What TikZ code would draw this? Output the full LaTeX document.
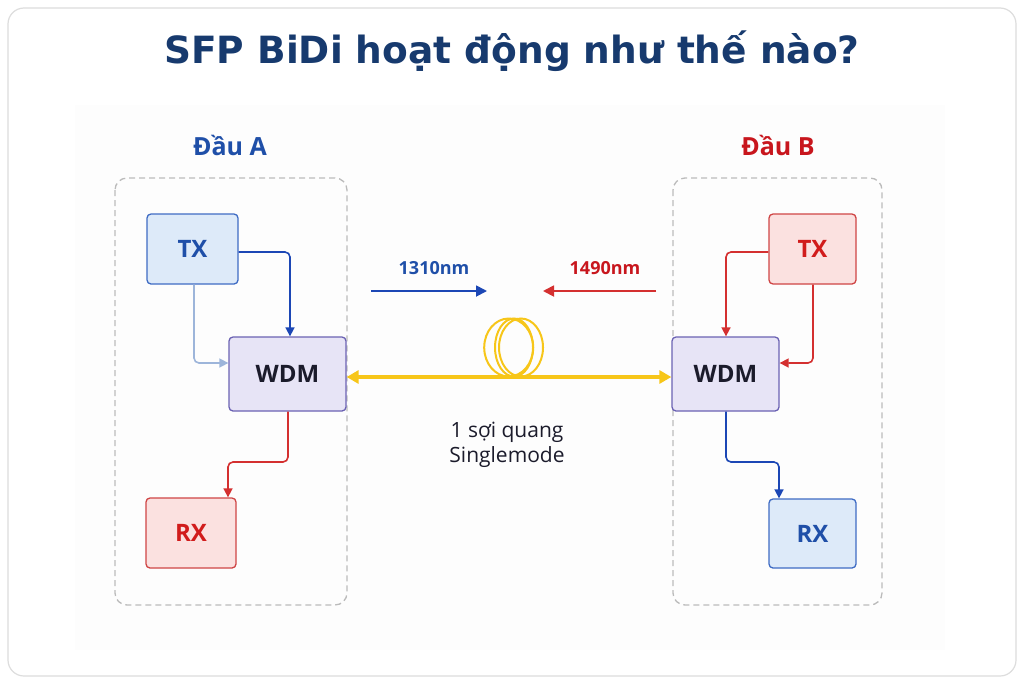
\documentclass[tikz,border=0pt]{standalone}
\usepackage{fontspec}
\setmainfont{Open Sans}
\newfontfamily\titlefont{DejaVu Sans}
\usetikzlibrary{arrows.meta}
\definecolor{navy}{HTML}{173A6E}
\definecolor{ablue}{HTML}{1F4FA8}
\definecolor{bred}{HTML}{C8161D}
\definecolor{lnblue}{HTML}{1C47B5}
\definecolor{lnlblue}{HTML}{9DB5DA}
\definecolor{lnred}{HTML}{D43030}
\definecolor{fiber}{HTML}{F7C619}
\definecolor{dashgray}{HTML}{BBBBBB}
\definecolor{framegray}{HTML}{DDDDDD}
\definecolor{bluefill}{HTML}{DDEAF9}
\definecolor{blueedge}{HTML}{3F6CC4}
\definecolor{redfill}{HTML}{FBE1E0}
\definecolor{rededge}{HTML}{CF4545}
\definecolor{wdmfill}{HTML}{E7E4F6}
\definecolor{wdmedge}{HTML}{6B62B3}
\definecolor{txtdark}{HTML}{1B1B2B}
\definecolor{rxred}{HTML}{D11C1C}
\definecolor{panel}{HTML}{FDFDFD}
\tikzset{
  box/.style={draw, line width=1.3pt, rounded corners=4pt, inner sep=0pt, font=\fontsize{24}{26}\selectfont\bfseries},
  bluebox/.style={box, fill=bluefill, draw=blueedge, text=ablue},
  redbox/.style={box, fill=redfill, draw=rededge, text=rxred},
  wdmbox/.style={box, fill=wdmfill, draw=wdmedge, text=txtdark},
  group/.style={draw=dashgray, dash pattern=on 6pt off 4pt, line width=1.3pt, rounded corners=12pt},
  conn/.style={line width=1.6pt, rounded corners=5pt, -{Triangle[length=9pt,width=9pt]}},
  heading/.style={font=\fontsize{25}{28}\selectfont\bfseries},
  wl/.style={font=\fontsize{18}{20}\selectfont\bfseries},
}
\begin{document}
\begin{tikzpicture}[x=1pt,y=-1pt]
\useasboundingbox (0,0) rectangle (1024,683);
\fill[white] (0,0) rectangle (1024,683);
\draw[framegray, line width=1.2pt, rounded corners=16pt, fill=white] (8,8) rectangle (1016,676);
\fill[panel] (75,105) rectangle (945,650);

\node[font=\titlefont\fontsize{37.5}{40}\selectfont\bfseries, text=navy] (title) at (512,51) {SFP BiDi hoạt động như thế nào?};

% groups
\draw[group] (115,178) rectangle (347,605);
\draw[group] (673,178) rectangle (882,605);
\node[heading, text=ablue] (hA) at (230,145) {Đầu A};
\node[heading, text=bred] (hB) at (778,145) {Đầu B};

% left side
\node[bluebox, minimum width=91pt, minimum height=70pt] (txA) at (192.5,249) {TX};
\node[wdmbox, minimum width=117pt, minimum height=74pt] (wdmA) at (287.5,374) {WDM};
\node[redbox, minimum width=90pt, minimum height=70pt] (rxA) at (191,533) {RX};

% right side
\node[redbox, minimum width=87pt, minimum height=70pt] (txB) at (812.5,249) {TX};
\node[wdmbox, minimum width=107pt, minimum height=74pt] (wdmB) at (725.5,374) {WDM};
\node[bluebox, minimum width=87pt, minimum height=69pt] (rxB) at (812.5,533.5) {RX};

% connectors left
\draw[conn, lnblue] (txA.east |- 0,252) -| (wdmA.north -| 290,0);
\draw[conn, lnlblue] (txA.south -| 194,0) |- (wdmA.west |- 0,363);
\draw[conn, lnred] (wdmA.south -| 288,0) -- (288,462) -- (228,462) -- (rxA.north -| 228,0);

% connectors right
\draw[conn, lnred] (txB.west |- 0,252) -| (wdmB.north -| 726,0);
\draw[conn, lnred] (txB.south -| 813,0) |- (wdmB.east |- 0,363);
\draw[conn, lnblue] (wdmB.south -| 726,0) -- (726,462) -- (779,462) -- (rxB.north -| 779,0);

% wavelength labels
\node[wl, text=ablue] (l1310) at (434,268) {1310nm};
\node[wl, text=bred] (l1490) at (605,268) {1490nm};
\coordinate (b1) at (371,291);
\coordinate (b2) at (487,291);
\coordinate (r1) at (656,291);
\coordinate (r2) at (543,291);
\draw[line width=1.8pt, lnblue, -{Triangle[length=11pt,width=11pt]}] (b1) -- (b2);
\draw[line width=1.8pt, lnred, -{Triangle[length=11pt,width=11pt]}] (r1) -- (r2);

% fiber coil
\draw[fiber, line width=2pt] (508.7,347.5) ellipse (24.5pt and 29pt);
\draw[fiber, line width=2pt] (514,347.5) ellipse (19pt and 29pt);
\draw[fiber, line width=2pt] (521,347.5) ellipse (22pt and 29pt);
% fiber
\draw[fiber, line width=3.5pt, {Triangle[length=12pt,width=13pt]}-{Triangle[length=12pt,width=13pt]}] (wdmA.east |- 0,377) -- (wdmB.west |- 0,377);

\node[font=\fontsize{21}{25}\selectfont, text=txtdark, align=center] (fibtxt) at (507,445) {1 sợi quang\\Singlemode};
\end{tikzpicture}
\end{document}
